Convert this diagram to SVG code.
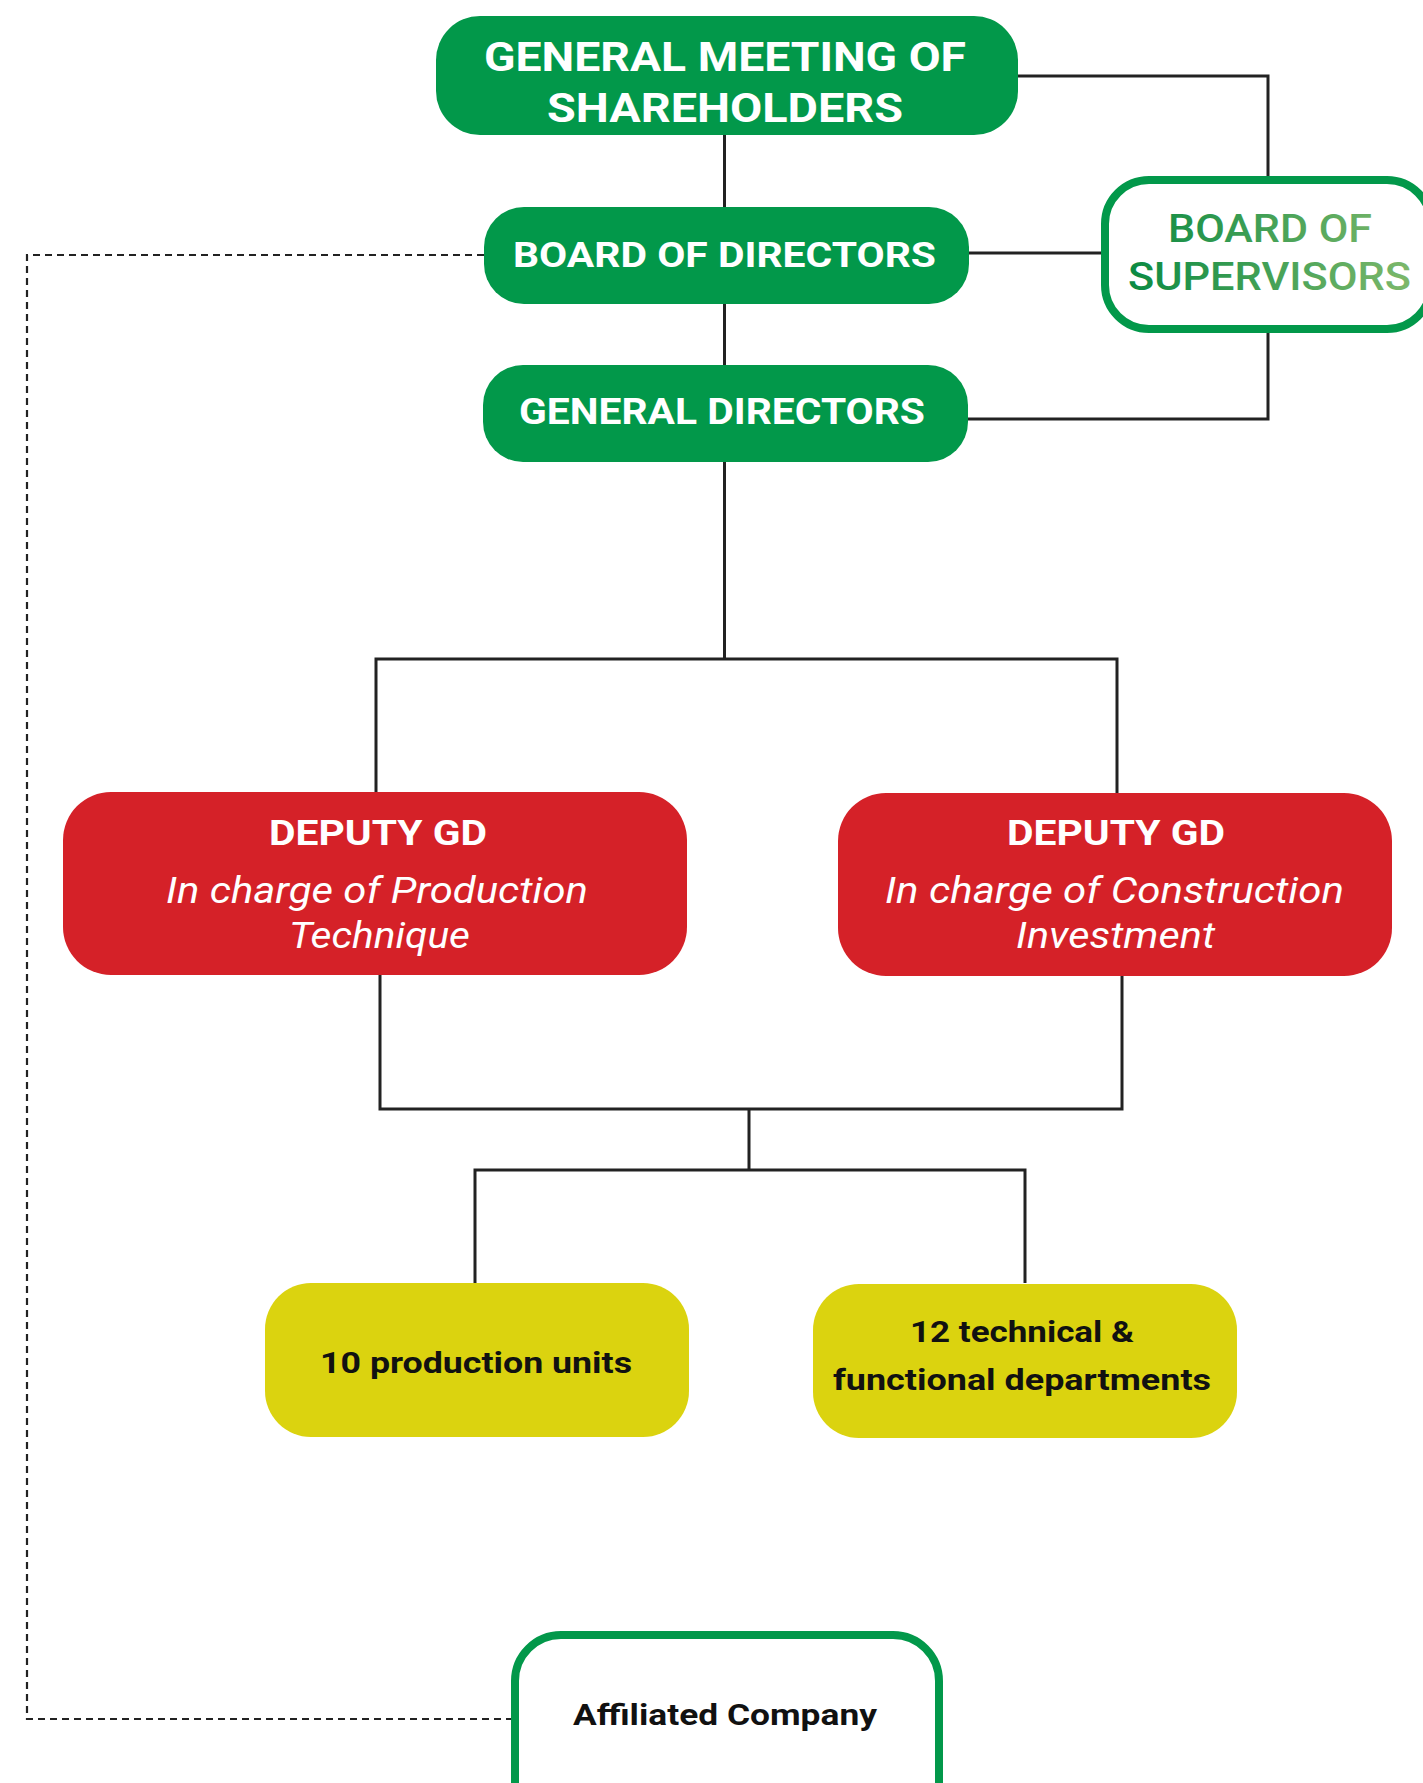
<svg xmlns="http://www.w3.org/2000/svg" width="1423" height="1783" viewBox="0 0 1423 1783">
<defs>
<style>
.g{fill:#02984A}
.r{fill:#D52128}
.y{fill:#DBD30F}
.o{fill:#fff;stroke:#02984A;stroke-width:8}
.t{font-family:Roboto,"Liberation Sans",sans-serif;text-anchor:middle}
.w{fill:#fff;font-weight:700}
.k{fill:#111;font-weight:700}
.i{fill:#fff;font-style:italic;font-weight:400}
.ln{fill:none;stroke:#222;stroke-width:3}
.ds{fill:none;stroke:#222;stroke-width:2.2;stroke-dasharray:7 5}
</style>
<linearGradient id="bos" x1="1128" y1="0" x2="1411" y2="0" gradientUnits="userSpaceOnUse">
<stop offset="0" stop-color="#0B8A42"/>
<stop offset="1" stop-color="#7DB86B"/>
</linearGradient>
</defs>
<rect width="1423" height="1783" fill="#fff"/>
<g id="connectors">
<path class="ln" d="M724.5 135V207M724.5 304V365M724.5 462V659M376 792V659H1117V793"/>
<path class="ln" d="M1018 76H1268V180M969 253H1105M968 419H1268V329"/>
<path class="ln" d="M380 975V1109H1122V976M749 1109V1170M475 1283V1170H1025V1283"/>
<path class="ds" d="M484 255H27V1719H511"/>
</g>
<g id="gm">
<rect class="g" x="436" y="16" width="582" height="119" rx="44"/>
<text class="t w" x="725" y="71" font-size="41" textLength="482" lengthAdjust="spacingAndGlyphs">GENERAL MEETING OF</text>
<text class="t w" x="725" y="122" font-size="41" textLength="356" lengthAdjust="spacingAndGlyphs">SHAREHOLDERS</text>
</g>
<g id="bod">
<rect class="g" x="484" y="207" width="485" height="97" rx="40"/>
<text class="t w" x="724.5" y="267" font-size="35" textLength="423" lengthAdjust="spacingAndGlyphs">BOARD OF DIRECTORS</text>
</g>
<g id="gd">
<rect class="g" x="483" y="365" width="485" height="97" rx="40"/>
<text class="t w" x="722" y="424" font-size="36" textLength="406" lengthAdjust="spacingAndGlyphs">GENERAL DIRECTORS</text>
</g>
<g id="bos-node">
<rect class="o" x="1105" y="180" width="326" height="149" rx="44"/>
<text class="t" x="1270" y="242" font-size="39" font-weight="500" fill="url(#bos)" textLength="204" lengthAdjust="spacingAndGlyphs">BOARD OF</text>
<text class="t" x="1269.5" y="290" font-size="39" font-weight="500" fill="url(#bos)" textLength="283" lengthAdjust="spacingAndGlyphs">SUPERVISORS</text>
</g>
<g id="deputy-production">
<rect class="r" x="63" y="792" width="624" height="183" rx="48"/>
<text class="t w" x="378" y="845" font-size="35" textLength="218" lengthAdjust="spacingAndGlyphs">DEPUTY GD</text>
<text class="t i" x="377" y="903" font-size="37" textLength="422" lengthAdjust="spacingAndGlyphs">In charge of Production</text>
<text class="t i" x="379.5" y="948" font-size="37" textLength="181" lengthAdjust="spacingAndGlyphs">Technique</text>
</g>
<g id="deputy-construction">
<rect class="r" x="838" y="793" width="554" height="183" rx="48"/>
<text class="t w" x="1116" y="845" font-size="35" textLength="218" lengthAdjust="spacingAndGlyphs">DEPUTY GD</text>
<text class="t i" x="1114.5" y="903" font-size="37" textLength="459" lengthAdjust="spacingAndGlyphs">In charge of Construction</text>
<text class="t i" x="1115.5" y="948" font-size="37" textLength="199" lengthAdjust="spacingAndGlyphs">Investment</text>
</g>
<g id="production-units">
<rect class="y" x="265" y="1283" width="424" height="154" rx="46"/>
<text class="t k" x="476" y="1373" font-size="30" textLength="312" lengthAdjust="spacingAndGlyphs">10 production units</text>
</g>
<g id="departments">
<rect class="y" x="813" y="1284" width="424" height="154" rx="46"/>
<text class="t k" x="1022" y="1342" font-size="30" textLength="224" lengthAdjust="spacingAndGlyphs">12 technical &amp;</text>
<text class="t k" x="1022" y="1390" font-size="30" textLength="378" lengthAdjust="spacingAndGlyphs">functional departments</text>
</g>
<g id="affiliated">
<rect class="o" x="515" y="1635" width="424" height="200" rx="46"/>
<text class="t k" x="725" y="1725" font-size="30" textLength="304" lengthAdjust="spacingAndGlyphs">Affiliated Company</text>
</g>
</svg>
